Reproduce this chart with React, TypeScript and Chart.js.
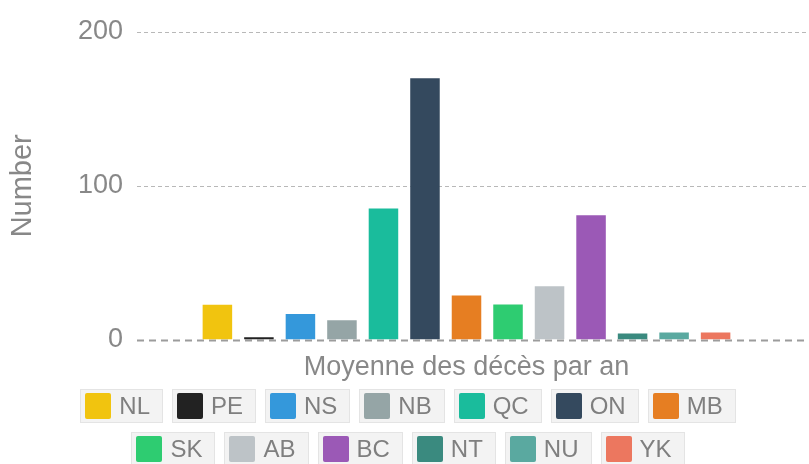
import React, { useEffect, useRef } from "react";
import { Chart, registerables } from "chart.js";

Chart.register(...registerables);

const categories = ["Moyenne des décès par an"];
const provinces = ["NL", "PE", "NS", "NB", "QC", "ON", "MB", "SK", "AB", "BC", "NT", "NU", "YK"];
const deaths = [22.6, 1.5, 16.7, 12.6, 85.3, 170, 28.7, 22.8, 34.7, 80.8, 3.9, 4.6, 4.6];
const colors = [
  "#f1c40f", "#222222", "#3498db", "#95a5a6", "#1abc9c", "#34495e", "#e67e22",
  "#2ecc71", "#bdc3c7", "#9b59b6", "#3a8a7f", "#5aa9a0", "#ec775f",
];
const yTicks = [0, 100, 200];
const yTitle = "Number";

const FONT = '"Liberation Sans", Arial, Helvetica, sans-serif';
const TEXT = "#888888";

const gridPlugin = {
  id: "dashedGrid",
  beforeDatasetsDraw(chart: any) {
    const { ctx, chartArea, scales } = chart;
    const y = scales.y;
    ctx.save();
    y.ticks.forEach((t: any) => {
      const py = Math.round(y.getPixelForValue(t.value)) + 0.5;
      ctx.beginPath();
      if (t.value === 0) {
        ctx.strokeStyle = "#9c9c9c";
        ctx.lineWidth = 2;
        ctx.setLineDash([7, 5]);
      } else {
        ctx.strokeStyle = "#b8b8b8";
        ctx.lineWidth = 1;
        ctx.setLineDash([4, 3]);
      }
      ctx.moveTo(chartArea.left, py);
      ctx.lineTo(chart.width, py);
      ctx.stroke();
    });
    ctx.restore();
  },
};

function ChartView() {
  const ref = useRef<HTMLCanvasElement | null>(null);
  useEffect(() => {
    if (!ref.current) return;
    const chart = new Chart(ref.current, {
      type: "bar",
      data: {
        labels: categories,
        datasets: provinces.map((p, i) => ({
          label: p,
          data: [deaths[i]],
          backgroundColor: colors[i],
          borderWidth: 0,
          categoryPercentage: 0.819,
          barPercentage: 0.711,
        })),
      },
      options: {
        responsive: true,
        maintainAspectRatio: false,
        animation: false,
        layout: { padding: { top: 32, right: 13, bottom: 0, left: 0 } },
        plugins: {
          legend: { display: false },
          tooltip: { enabled: false },
        },
        scales: {
          x: {
            grid: { display: false, drawTicks: false },
            border: { display: false },
            ticks: { color: TEXT, font: { family: FONT, size: 27 }, padding: 12 },
          },
          y: {
            min: 0,
            max: 200,
            afterBuildTicks: (scale: any) => {
              scale.ticks = yTicks.map((v) => ({ value: v }));
            },
            afterFit: (scale: any) => {
              scale.width = 137;
            },
            grid: { display: false, drawTicks: false },
            border: { display: false },
            ticks: { color: TEXT, font: { family: FONT, size: 27 }, padding: 14 },
            title: {
              display: true,
              text: yTitle,
              color: TEXT,
              font: { family: FONT, size: 29 },
              padding: { top: 6, bottom: 0 },
            },
          },
        },
      },
      plugins: [gridPlugin],
    } as any);
    return () => chart.destroy();
  }, []);
  return (
    <div style={{ position: "relative", width: 809, height: 396 }}>
      <canvas ref={ref} />
    </div>
  );
}

function LegendItem({ label, color }: { label: string; color: string }) {
  return (
    <div
      style={{
        boxSizing: "border-box",
        display: "inline-flex",
        alignItems: "center",
        height: 34,
        padding: "0 12px 0 4px",
        margin: "0 4.5px",
        background: "#f3f3f3",
        border: "1px solid #e4e4e4",
      }}
    >
      <span
        style={{
          display: "inline-block",
          width: 26,
          height: 26,
          background: color,
          borderRadius: 2,
          marginRight: 8,
        }}
      />
      <span style={{ fontFamily: FONT, fontSize: 24, color: "#7f7f7f", lineHeight: 1 }}>{label}</span>
    </div>
  );
}

export default function App() {
  const rows = [provinces.slice(0, 7), provinces.slice(7)];
  return (
    <div style={{ position: "absolute", left: 0, top: 0, width: 809, height: 464, background: "#fff", overflow: "hidden" }}>
      <ChartView />
      <div style={{ position: "absolute", left: 3.5, top: 389, width: 809 }}>
        {rows.map((row, ri) => (
          <div
            key={ri}
            style={{ display: "flex", justifyContent: "center", marginTop: ri === 0 ? 0 : 8.5 }}
          >
            {row.map((p) => {
              const i = provinces.indexOf(p);
              return <LegendItem key={p} label={p} color={colors[i]} />;
            })}
          </div>
        ))}
      </div>
    </div>
  );
}
